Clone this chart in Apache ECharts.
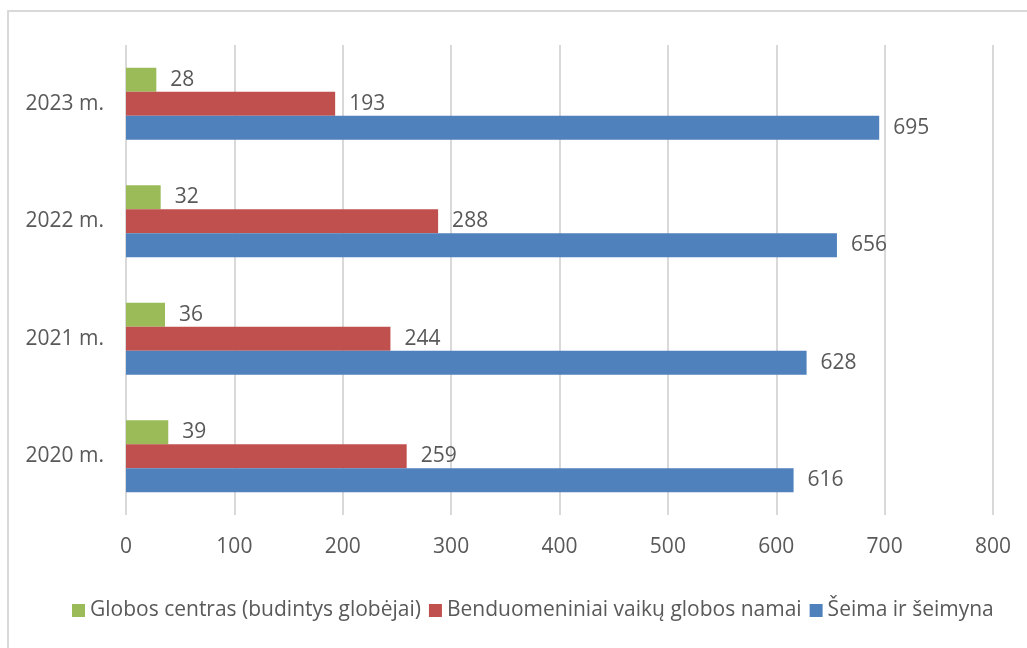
<!DOCTYPE html>
<html>
<head>
<meta charset="utf-8">
<script src="https://cdn.jsdelivr.net/npm/echarts@6/dist/echarts.min.js"></script>
<style>
html,body{margin:0;padding:0;background:#fff;}
#chart{width:1027px;height:648px;}
</style>
</head>
<body>
<div id="chart"></div>
<script>
const categories = ['2020 m.', '2021 m.', '2022 m.', '2023 m.'];
const seriesNames = ['Globos centras (budintys globėjai)', 'Benduomeniniai vaikų globos namai', 'Šeima ir šeimyna'];
const globosCentras = [39, 36, 32, 28];
const benduomeniniai = [259, 244, 288, 193];
const seima = [616, 628, 656, 695];
const colors = ['#9BBB59', '#C0504D', '#4F81BD'];

const FONT = '"Open Sans", sans-serif';
const TXT = '#595959';

const chart = echarts.init(document.getElementById('chart'));
function mk(name, data, color) {
  return {
    name: name, type: 'bar', data: data, barWidth: 24, barGap: '0%',
    itemStyle: { color: color },
    label: { show: true, position: 'right', distance: 14, color: TXT, fontSize: 21, fontFamily: FONT },
    emphasis: { disabled: true }
  };
}
chart.setOption({
  animation: false,
  graphic: [{
    type: 'rect', shape: { x: 8, y: 11, width: 1100, height: 700 },
    style: { fill: 'none', stroke: '#d9d9d9', lineWidth: 2 }
  }],
  grid: { left: 126, right: 34, top: 45, bottom: 133, containLabel: false },
  legend: {
    data: seriesNames, bottom: 22, left: 67, itemWidth: 13, itemHeight: 13, itemGap: 8,
    icon: 'rect',
    textStyle: { color: TXT, fontSize: 21, fontFamily: FONT }
  },
  xAxis: {
    type: 'value', min: 0, max: 800, interval: 100,
    axisLine: { show: false }, axisTick: { show: false },
    splitLine: { show: true, lineStyle: { color: '#d9d9d9', width: 2 } },
    axisLabel: { color: TXT, fontSize: 21, fontFamily: FONT, margin: 22 }
  },
  yAxis: {
    type: 'category', data: categories,
    axisLine: { show: false }, axisTick: { show: false },
    axisLabel: { color: TXT, fontSize: 21, fontFamily: FONT, margin: 22 }
  },
  series: [
    mk(seriesNames[0], globosCentras, colors[0]),
    mk(seriesNames[1], benduomeniniai, colors[1]),
    mk(seriesNames[2], seima, colors[2])
  ]
});
</script>
</body>
</html>
